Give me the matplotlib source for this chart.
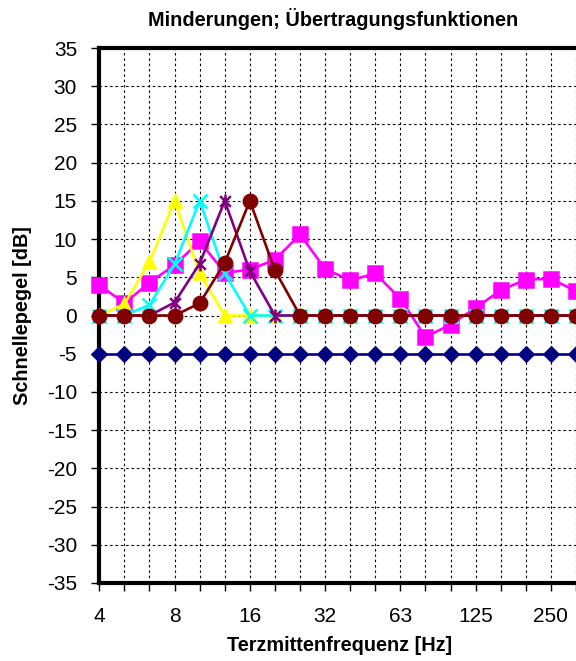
import matplotlib
matplotlib.use("Agg")
import matplotlib.pyplot as plt
from matplotlib.path import Path

plt.rcParams['font.family'] = ['Liberation Sans', 'DejaVu Sans']
plt.rcParams['axes.unicode_minus'] = False

# third-octave bands (Hz), labels only every 3rd band
bands = ['4', '5', '6.3', '8', '10', '12.5', '16', '20', '25', '31.5',
         '40', '50', '63', '80', '100', '125', '160', '200', '250', '315']
band_labels = ['4', '', '', '8', '', '', '16', '', '', '32',
               '', '', '63', '', '', '125', '', '', '250', '']

reduction = [-5] * 20
transfer = [4.0, 1.6, 4.3, 6.6, 9.7, 5.6, 6.0, 7.3, 10.6, 6.1,
            4.6, 5.5, 2.2, -2.8, -1.2, 1.0, 3.3, 4.7, 4.8, 3.2]
filter_8 = [0, 1.5, 7.0, 15.0, 5.5, 0, 0, 0, 0, 0,
            0, 0, 0, 0, 0, 0, 0, 0, 0, 0]
filter_10 = [0, 0, 1.4, 6.7, 15.0, 5.5, 0, 0, 0, 0,
             0, 0, 0, 0, 0, 0, 0, 0, 0, 0]
filter_12 = [0, 0, 0, 1.7, 6.8, 15.0, 5.8, 0, 0, 0,
             0, 0, 0, 0, 0, 0, 0, 0, 0, 0]
filter_16 = [0, 0, 0, 0, 1.6, 6.9, 15.0, 5.9, 0, 0,
             0, 0, 0, 0, 0, 0, 0, 0, 0, 0]

# Excel-style asterisk marker (x with vertical bar)
star = Path([(-1, -1), (1, 1), (-1, 1), (1, -1), (0, -1.3), (0, 1.3)],
            [Path.MOVETO, Path.LINETO, Path.MOVETO, Path.LINETO, Path.MOVETO, Path.LINETO])

fig = plt.figure(figsize=(5.76, 6.61), dpi=100)
ax = fig.add_axes([99.3 / 576, 1 - 583 / 661, 1 - 99.3 / 576, (583 - 48) / 661])

x = list(range(len(bands)))
series = [
    (reduction, '#000080', 'D', 7.6),
    (transfer, '#FF00FF', 's', 10),
    (filter_8, '#FFFF00', '^', 9),
    (filter_10, '#00FFFF', 'x', 9.5),
    (filter_12, '#800080', star, 10),
    (filter_16, '#800000', 'o', 9.6),
]
for i, (vals, col, mk, ms) in enumerate(series):
    ax.plot(x, vals, color=col, lw=1.9, marker=mk, markersize=ms,
            markerfacecolor=col, markeredgecolor=col, markeredgewidth=1.8,
            clip_on=False, zorder=3 + i)

ax.set_xlim(0, (576 - 99.3) / 25.3)
ax.set_ylim(-35, 35)
ax.set_xticks(x)
ax.set_xticklabels(band_labels)
ax.set_yticks(range(-35, 40, 5))

ax.grid(True, color='black', linestyle=(0, (2.2, 2.6)), linewidth=0.8)
ax.set_axisbelow(True)

for side in ['left', 'bottom', 'top']:
    ax.spines[side].set_linewidth(3)
    ax.spines[side].set_color('black')
ax.spines['right'].set_visible(False)

ax.tick_params(axis='y', labelsize=15, length=6, width=1, pad=10)
ax.tick_params(axis='x', labelsize=15, length=6, width=1, pad=11)

fig.text(333 / 576, 1 - 26 / 661, 'Minderungen; Übertragungsfunktionen',
         ha='center', va='baseline', fontsize=14.3, fontweight='bold')
fig.text(340 / 576, 1 - 651 / 661, 'Terzmittenfrequenz [Hz]',
         ha='center', va='baseline', fontsize=14.3, fontweight='bold')
fig.text(23 / 576, 1 - 316 / 661, 'Schnellepegel [dB]', rotation=90,
         ha='center', va='center', fontsize=14.3, fontweight='bold')

fig.savefig('out.png', dpi=100)
